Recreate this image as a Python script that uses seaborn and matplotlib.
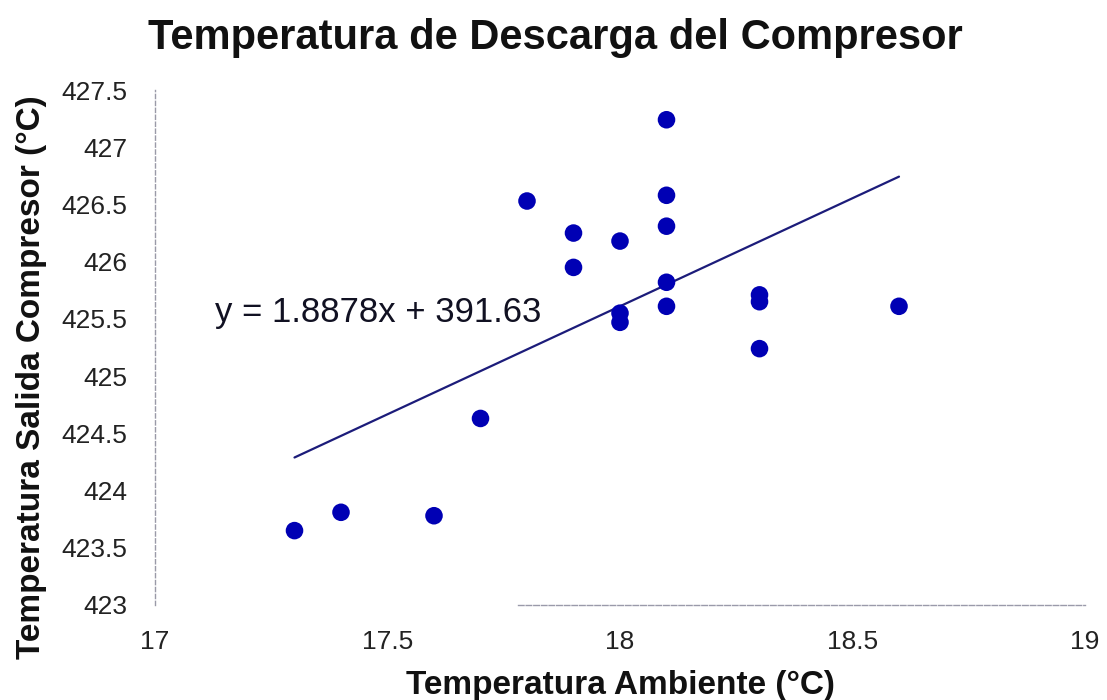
import matplotlib
matplotlib.use("Agg")
import matplotlib.pyplot as plt
import seaborn as sns
import pandas as pd
import numpy as np

# Data
temp_ambiente = [17.3, 17.4, 17.6, 17.7, 17.8, 17.9, 17.9, 18.0, 18.0, 18.0,
                 18.1, 18.1, 18.1, 18.1, 18.1, 18.3, 18.3, 18.3, 18.6]
temp_salida = [423.65, 423.81, 423.78, 424.63, 426.53, 426.25, 425.95, 426.18, 425.55, 425.47,
               427.24, 426.58, 426.31, 425.82, 425.61, 425.71, 425.65, 425.24, 425.61]
slope = 1.8878
intercept = 391.63
x_ticks = [17, 17.5, 18, 18.5, 19]
x_tick_labels = ["17", "17.5", "18", "18.5", "19"]
y_ticks = [423, 423.5, 424, 424.5, 425, 425.5, 426, 426.5, 427, 427.5]
y_tick_labels = ["423", "423.5", "424", "424.5", "425", "425.5", "426", "426.5", "427", "427.5"]

sns.set_style("white")
plt.rcParams['font.family'] = ['Liberation Sans', 'DejaVu Sans']

df = pd.DataFrame({"x": temp_ambiente, "y": temp_salida})
fit_x = np.array([min(temp_ambiente), max(temp_ambiente)])
fit_df = pd.DataFrame({"x": fit_x, "y": slope * fit_x + intercept})

fig = plt.figure(figsize=(11.07, 7.0), dpi=100)
ax = fig.add_axes([155 / 1107, 1 - 605 / 700, (1085 - 155) / 1107, (605 - 90) / 700])

sns.lineplot(data=fit_df, x="x", y="y", ax=ax, color="#1c1c7a", linewidth=1.6, zorder=2)
sns.scatterplot(data=df, x="x", y="y", ax=ax, color="#0000b4", s=160, edgecolor="none", zorder=3)

ax.set_xlim(17, 19)
ax.set_ylim(423, 427.5)
ax.set_xticks(x_ticks)
ax.set_xticklabels(x_tick_labels)
ax.set_yticks(y_ticks)
ax.set_yticklabels(y_tick_labels)
ax.tick_params(axis="both", length=0, labelsize=19, colors="#222222")
ax.tick_params(axis="y", pad=20)
ax.tick_params(axis="x", pad=18)

for side in ["top", "right"]:
    ax.spines[side].set_visible(False)
ax.spines["left"].set_color("#9a9aa8")
ax.spines["left"].set_linestyle((0, (3, 2)))
ax.spines["left"].set_linewidth(1.0)
ax.spines["bottom"].set_color("#9a9aaa")
ax.spines["bottom"].set_linestyle((0, (4, 1.5)))
ax.spines["bottom"].set_linewidth(1.0)
ax.spines["bottom"].set_bounds(17.78, 19)

ax.set_xlabel("Temperatura Ambiente (°C)", fontsize=24, fontweight="bold", color="#111111")
ax.set_ylabel("Temperatura Salida Compresor (°C)", fontsize=24, fontweight="bold", color="#111111")
ax.xaxis.set_label_coords((620 - 155) / 930, (605 - 670) / 515)
ax.yaxis.set_label_coords((47 - 155) / 930, (605 - 377) / 515)

ax.text(17.13, 425.56, "y = 1.8878x + 391.63", fontsize=25, color="#111122", va="center", ha="left")

fig.text(555 / 1107, 1 - 38 / 700, "Temperatura de Descarga del Compresor",
         fontsize=30, fontweight="bold", ha="center", va="center", color="#111111")

fig.savefig("out.png", dpi=100, facecolor="white")
